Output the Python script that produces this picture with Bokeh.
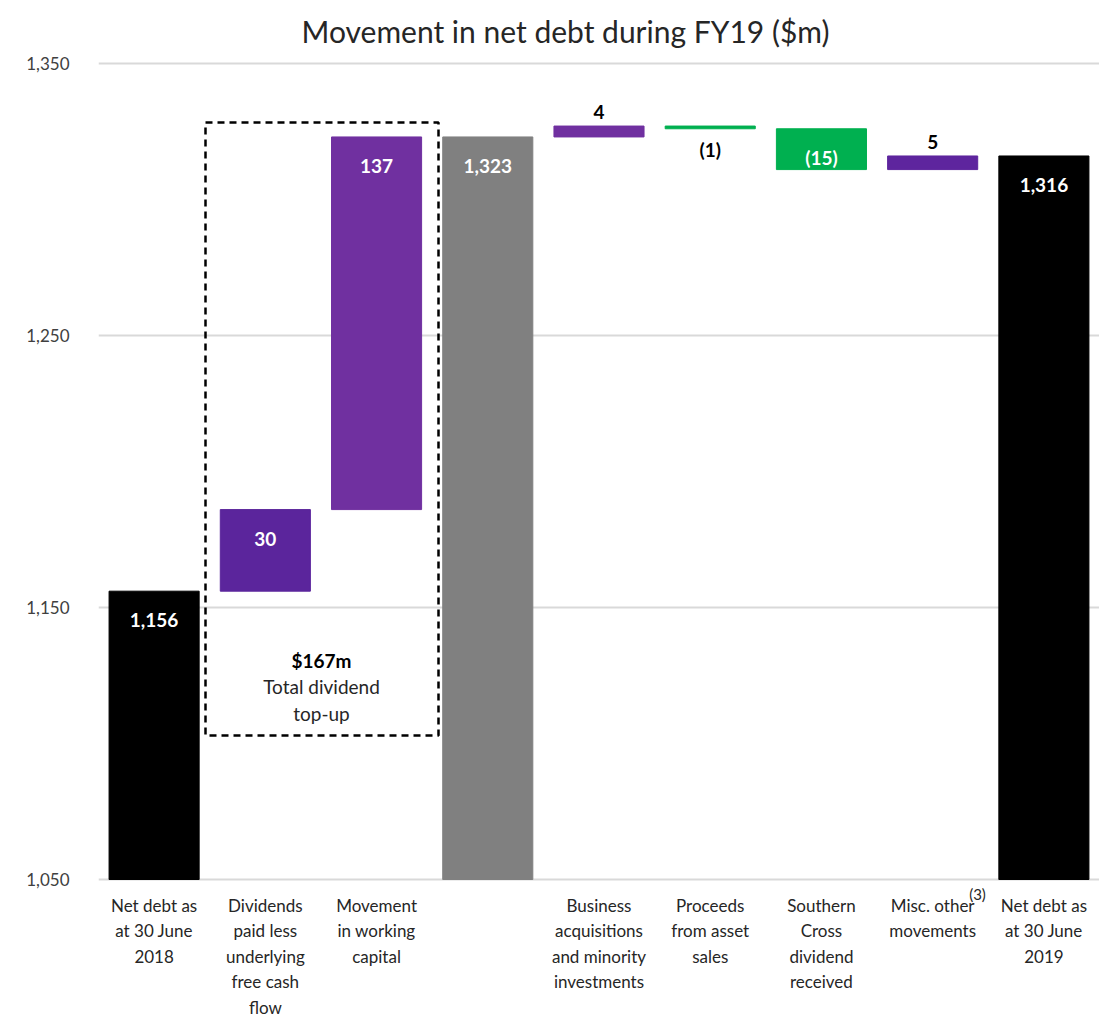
from bokeh.plotting import figure
from bokeh.models import ColumnDataSource, FixedTicker, Range1d, NumeralTickFormatter
from bokeh.core.properties import value
from bokeh.embed import file_html
from bokeh.resources import INLINE

categories = ["Net debt as\nat 30 June\n2018",
              "Dividends\npaid less\nunderlying\nfree cash\nflow",
              "Movement\nin working\ncapital",
              "",
              "Business\nacquisitions\nand minority\ninvestments",
              "Proceeds\nfrom asset\nsales",
              "Southern\nCross\ndividend\nreceived",
              "Misc. other\nmovements",
              "Net debt as\nat 30 June\n2019"]
values = [1156, 30, 137, 1323, 4, -1, -15, 5, 1316]
kinds = ["total", "delta", "delta", "total", "delta", "delta", "delta", "delta", "total"]
value_labels = ["1,156", "30", "137", "1,323", "4", "(1)", "(15)", "5", "1,316"]
bar_colors = ["#000000", "#5B259C", "#7030A0", "#808080", "#7030A0",
              "#00B050", "#00B050", "#5E259E", "#000000"]
label_place = ["in_top", "in_top", "in_top", "in_top", "above", "below", "in_bottom", "above", "in_top"]
y_ticks = [1050, 1150, 1250, 1350]
y_min, y_max = 1050, 1350
box_total_label = "$167m"
box_text = "Total dividend\ntop-up"
title_text = "Movement in net debt during FY19 ($m)"
footnote_mark = "(3)"

FONT = "Lato"
W, H = 1099, 1019
LEFT = 98          # px, frame left
PLOT_TOP = 63      # px, where y_max sits
PLOT_BOTTOM = 879  # px, where y_min sits
ppu = (PLOT_BOTTOM - PLOT_TOP) / (y_max - y_min)   # px per data unit
n = len(categories)
ppx = (W - LEFT) / n

def ydata(px):
    return y_max - (px - PLOT_TOP) / ppu

def xdata(px):
    return (px - LEFT) / ppx

# waterfall geometry
bottoms, tops = [], []
running = 0
for v, k in zip(values, kinds):
    if k == "total":
        b, t = y_min, v
        running = v
    else:
        start = running
        running = running + v
        b, t = min(start, running), max(start, running)
    bottoms.append(b)
    tops.append(t)

xs = [i + 0.5 for i in range(n)]

p = figure(width=W, height=H, output_backend="svg", toolbar_location=None,
           x_range=Range1d(0, n), y_range=Range1d(ydata(H), ydata(0)),
           min_border_left=LEFT, min_border_right=0, min_border_top=0, min_border_bottom=0)
p.outline_line_color = None
p.background_fill_color = "white"
p.border_fill_color = "white"
p.xaxis.visible = False

src = ColumnDataSource(dict(x=xs, bottom=bottoms, top=tops, color=bar_colors))
p.vbar(x="x", width=0.81, bottom="bottom", top="top", color="color", source=src)

# y axis
p.yaxis.ticker = FixedTicker(ticks=y_ticks)
p.yaxis.formatter = NumeralTickFormatter(format="0,0")
p.yaxis.axis_line_color = None
p.yaxis.major_tick_line_color = None
p.yaxis.minor_tick_line_color = None
p.yaxis.major_label_standoff = 23
p.yaxis.major_label_text_font = FONT
p.yaxis.major_label_text_font_size = "17px"
p.yaxis.major_label_text_color = "#404040"

p.xgrid.grid_line_color = None
p.ygrid.ticker = FixedTicker(ticks=y_ticks)
p.ygrid.grid_line_color = "#D9D9D9"
p.ygrid.grid_line_width = 2

# category labels below the baseline
cat_src = ColumnDataSource(dict(x=xs, y=[y_min] * n, t=categories))
p.text(x="x", y="y", text="t", source=cat_src, text_align="center", text_baseline="top",
       y_offset=15, text_font=value(FONT), text_font_size="17px", text_color="#262626",
       text_line_height=1.22)
p.text(x=[xdata(977)], y=[ydata(893)], text=[footnote_mark], text_align="center",
       text_baseline="middle", text_font=value(FONT), text_font_size="15px", text_color="#262626")

# value labels
groups = {
    "in_top": ("white", 29),
    "above": ("black", -14),
    "below": ("black", 21),
    "in_bottom": ("white", -12),
}
for key, (col, off) in groups.items():
    idx = [i for i, pl in enumerate(label_place) if pl == key]
    if not idx:
        continue
    ys = [tops[i] if key in ("in_top", "above") else bottoms[i] for i in idx]
    s = ColumnDataSource(dict(x=[xs[i] for i in idx], y=ys, t=[value_labels[i] for i in idx]))
    p.text(x="x", y="y", text="t", source=s, text_color=col, text_align="center",
           text_baseline="middle", y_offset=off, text_font=value(FONT), text_font_style="bold",
           text_font_size="19px")

# dashed box around dividend top-up
p.quad(left=[xdata(205)], right=[xdata(438)], bottom=[ydata(735)], top=[ydata(122)], fill_color=None,
       line_color="black", line_width=2.5, line_dash="7 5")
p.text(x=[xdata(321)], y=[ydata(660)], text=[box_total_label], text_align="center", text_baseline="middle",
       text_font=value(FONT), text_font_style="bold", text_font_size="19px", text_color="black")
p.text(x=[xdata(321)], y=[ydata(699.5)], text=[box_text], text_align="center", text_baseline="middle",
       text_font=value(FONT), text_font_size="19px", text_color="#262626", text_line_height=1.2)

# title
p.text(x=[xdata(565)], y=[ydata(30)], text=[title_text], text_align="center", text_baseline="middle",
       text_font=value(FONT), text_font_size="30px", text_color="#262626")

open("out.html", "w").write(file_html(p, INLINE))
